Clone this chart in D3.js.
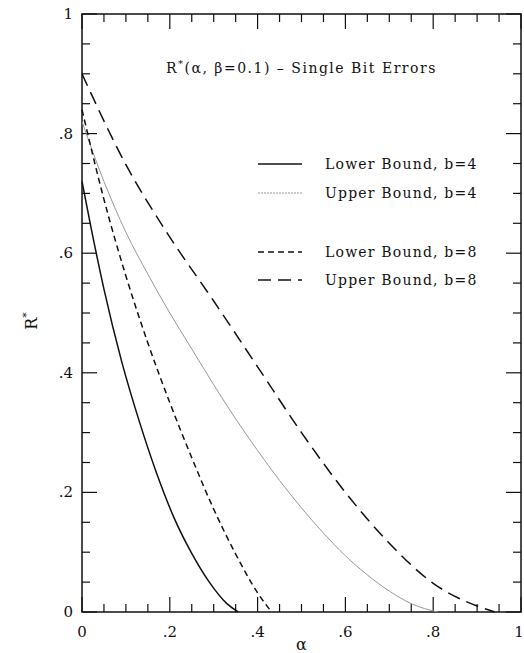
<!DOCTYPE html>
<html>
<head>
<meta charset="utf-8">
<script src="https://cdn.jsdelivr.net/npm/d3@7"></script>
<style>
  body { margin: 0; background: #fff; }
  text { font-family: "DejaVu Serif", serif; fill: #111; }
</style>
</head>
<body>
<div id="chart"></div>
<script>
// values: alpha on x, R* on y
var lowerB4Alpha = [0, 0.02, 0.05, 0.09, 0.13, 0.17, 0.21, 0.25, 0.29, 0.33, 0.356];
var lowerB4R     = [0.72, 0.645, 0.54, 0.42, 0.32, 0.232, 0.157, 0.098, 0.05, 0.014, 0];

var upperB4Alpha = [0, 0.05, 0.1, 0.15, 0.2, 0.25, 0.3, 0.35, 0.4, 0.45, 0.5, 0.55, 0.6, 0.65, 0.7, 0.75, 0.81];
var upperB4R     = [0.82, 0.72, 0.635, 0.565, 0.5, 0.44, 0.38, 0.323, 0.27, 0.22, 0.174, 0.132, 0.094, 0.062, 0.035, 0.014, 0];

var lowerB8Alpha = [0, 0.05, 0.1, 0.15, 0.2, 0.25, 0.3, 0.35, 0.4, 0.432];
var lowerB8R     = [0.84, 0.69, 0.562, 0.45, 0.35, 0.258, 0.172, 0.097, 0.032, 0];

var upperB8Alpha = [0, 0.1, 0.2, 0.3, 0.4, 0.5, 0.6, 0.7, 0.8, 0.9, 0.94];
var upperB8R     = [0.90, 0.748, 0.627, 0.52, 0.41, 0.30, 0.20, 0.115, 0.048, 0.01, 0];

var tickLabels = ['0', '.2', '.4', '.6', '.8', '1'];
var legendNames = ['Lower Bound, b=4', 'Upper Bound, b=4', 'Lower Bound, b=8', 'Upper Bound, b=8'];

(function() {
  var width = 524, height = 653;
  var pLeft = 82, pRight = 521, pTop = 14, pBottom = 612;

  var x = d3.scaleLinear().domain([0, 1]).range([pLeft, pRight]);
  var y = d3.scaleLinear().domain([0, 1]).range([pBottom, pTop]);

  var svg = d3.select('#chart').append('svg')
      .attr('width', width)
      .attr('height', height);

  var majors = d3.range(0, 1.0001, 0.2);
  var minors = d3.range(0, 1.0001, 0.05);

  // frame
  svg.append('rect')
    .attr('x', pLeft).attr('y', pTop)
    .attr('width', pRight - pLeft).attr('height', pBottom - pTop)
    .attr('fill', 'none').attr('stroke', '#111').attr('stroke-width', 1.5);

  // ticks, all pointing inward
  function tickLen(v) {
    var isMajor = Math.abs(v * 5 - Math.round(v * 5)) < 1e-6;
    return isMajor ? 15 : 8;
  }
  var tk = svg.append('g').attr('stroke', '#111').attr('stroke-width', 1.2);
  minors.forEach(function(v) {
    var L = tickLen(v);
    tk.append('line').attr('x1', x(v)).attr('x2', x(v)).attr('y1', pBottom).attr('y2', pBottom - L);
    tk.append('line').attr('x1', x(v)).attr('x2', x(v)).attr('y1', pTop).attr('y2', pTop + L);
    tk.append('line').attr('x1', pLeft).attr('x2', pLeft + L).attr('y1', y(v)).attr('y2', y(v));
    tk.append('line').attr('x1', pRight).attr('x2', pRight - L).attr('y1', y(v)).attr('y2', y(v));
  });

  // tick labels
  svg.append('g').selectAll('text').data(majors).enter().append('text')
    .attr('x', function(d, i) { return x(d) - (i === 5 ? 2 : 0); })
    .attr('y', pBottom + 25)
    .attr('text-anchor', 'middle')
    .style('font-size', '15px')
    .text(function(d, i) { return tickLabels[i]; });

  svg.append('g').selectAll('text').data(majors).enter().append('text')
    .attr('x', pLeft - 9)
    .attr('y', function(d) { return y(d) + 5; })
    .attr('text-anchor', 'end')
    .style('font-size', '15px')
    .text(function(d, i) { return tickLabels[i]; });

  // axis titles
  svg.append('text')
    .attr('x', x(0.5)).attr('y', pBottom + 38)
    .attr('text-anchor', 'middle')
    .style('font-size', '16px')
    .text('α');

  var yl = svg.append('text')
    .attr('transform', 'translate(37,' + (y(0.5) + 8) + ') rotate(-90)')
    .attr('text-anchor', 'middle')
    .style('font-size', '16px');
  yl.append('tspan').text('R');
  yl.append('tspan').attr('dy', -7).style('font-size', '11px').text('*');

  // chart title
  var tt = svg.append('text')
    .attr('x', 166).attr('y', 73)
    .style('font-size', '14px')
    .style('letter-spacing', '1.5px');
  tt.append('tspan').text('R');
  tt.append('tspan').attr('dy', -6).style('font-size', '10px').text('*');
  tt.append('tspan').attr('dy', 6).text('(α, β=0.1) – Single Bit Errors');

  // series
  var series = [
    { a: lowerB4Alpha, r: lowerB4R, color: '#111', w: 1.5, dash: null },
    { a: upperB4Alpha, r: upperB4R, color: '#999', w: 1, dash: null },
    { a: lowerB8Alpha, r: lowerB8R, color: '#111', w: 1.5, dash: '6,4' },
    { a: upperB8Alpha, r: upperB8R, color: '#111', w: 1.5, dash: '13,7' }
  ];

  var line = d3.line()
    .x(function(d) { return x(d[0]); })
    .y(function(d) { return y(d[1]); })
    .curve(d3.curveMonotoneX);

  series.forEach(function(s) {
    var pts = s.a.map(function(v, i) { return [v, s.r[i]]; });
    svg.append('path')
      .attr('d', line(pts))
      .attr('fill', 'none')
      .attr('stroke', s.color)
      .attr('stroke-width', s.w)
      .attr('stroke-dasharray', s.dash);
  });

  // legend
  var legendY = [164, 193, 252, 280];
  var lg = svg.append('g');
  series.forEach(function(s, i) {
    lg.append('line')
      .attr('x1', 258).attr('x2', 302)
      .attr('y1', legendY[i]).attr('y2', legendY[i])
      .attr('stroke', s.color)
      .attr('stroke-width', s.w)
      .attr('stroke-dasharray', i === 1 ? '2,1' : s.dash);
    lg.append('text')
      .attr('x', 325).attr('y', legendY[i] + 5)
      .style('font-size', '14px')
      .style('letter-spacing', '1.2px')
      .text(legendNames[i]);
  });
})();
</script>
</body>
</html>
